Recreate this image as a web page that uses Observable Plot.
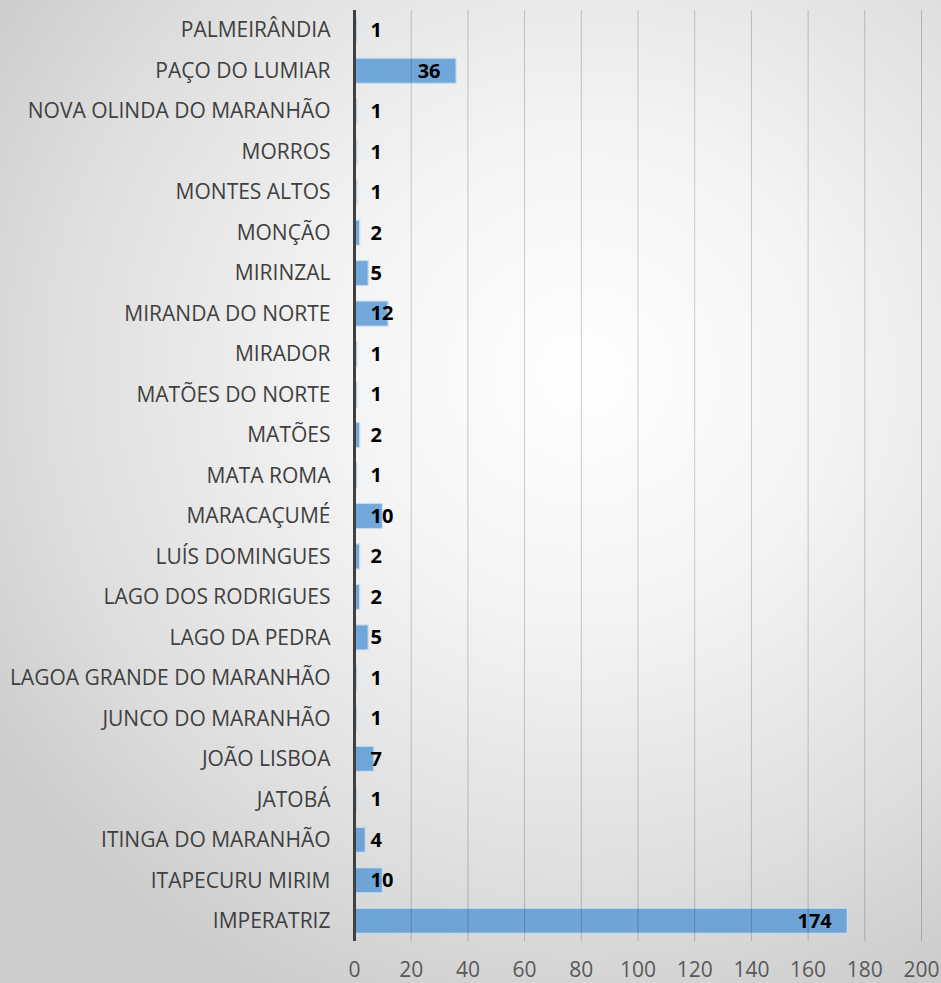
<!DOCTYPE html>
<html>
<head>
<meta charset="utf-8">
<script src="https://cdn.jsdelivr.net/npm/d3@7"></script>
<script src="https://cdn.jsdelivr.net/npm/@observablehq/plot@0.6"></script>
<style>
  html, body { margin: 0; padding: 0; }
  body { width: 941px; height: 983px; overflow: hidden;
    background: radial-gradient(ellipse 75% 70% at 62% 38%, #ffffff 0%, #f4f4f4 35%, #dedede 75%, #cccccc 100%); }
  #chart svg { display: block; background: transparent; }
</style>
</head>
<body>
<div id="chart"></div>
<script>
const municipios = [
  "PALMEIRÂNDIA", "PAÇO DO LUMIAR", "NOVA OLINDA DO MARANHÃO", "MORROS", "MONTES ALTOS",
  "MONÇÃO", "MIRINZAL", "MIRANDA DO NORTE", "MIRADOR", "MATÕES DO NORTE", "MATÕES",
  "MATA ROMA", "MARACAÇUMÉ", "LUÍS DOMINGUES", "LAGO DOS RODRIGUES", "LAGO DA PEDRA",
  "LAGOA GRANDE DO MARANHÃO", "JUNCO DO MARANHÃO", "JOÃO LISBOA", "JATOBÁ",
  "ITINGA DO MARANHÃO", "ITAPECURU MIRIM", "IMPERATRIZ"
];
const valores = [1, 36, 1, 1, 1, 2, 5, 12, 1, 1, 2, 1, 10, 2, 2, 5, 1, 1, 7, 1, 4, 10, 174];
const xTicks = [0, 20, 40, 60, 80, 100, 120, 140, 160, 180, 200];

const data = municipios.map((m, i) => ({municipio: m, valor: valores[i]}));
const big = data.filter(d => d.valor >= 20);
const small = data.filter(d => d.valor < 20);

const chart = Plot.plot({
  width: 941,
  height: 983,
  marginLeft: 354,
  marginRight: 20,
  marginTop: 10,
  marginBottom: 42,
  style: {background: "transparent", fontFamily: "'Open Sans', sans-serif"},
  x: {domain: [0, 200], ticks: xTicks, label: null},
  y: {domain: municipios, paddingInner: 0.38, paddingOuter: 0.19, round: false, label: null},
  marks: [
    Plot.barX(data, {x: "valor", y: "municipio", fill: "#5b9bd5", fillOpacity: 0.85, stroke: "#c9ddf1", strokeWidth: 1.2}),
    Plot.gridX(xTicks.slice(1), {stroke: "#000", strokeOpacity: 0.2, strokeWidth: 1}),
    Plot.ruleX([0], {stroke: "#404040", strokeWidth: 3}),
    Plot.axisX({ticks: xTicks, tickSize: 0, tickPadding: 21, fontSize: 21, fill: "#595959", label: null}),
    Plot.axisY({tickSize: 0, tickPadding: 24, fontSize: 21, fill: "#404040", label: null}),
    Plot.text(big, {x: "valor", y: "municipio", text: d => String(d.valor), textAnchor: "end", dx: -16, fontWeight: "bold", fontSize: 20, fill: "#000"}),
    Plot.text(small, {x: () => 0, y: "municipio", text: d => String(d.valor), textAnchor: "start", dx: 16, fontWeight: "bold", fontSize: 20, fill: "#000"})
  ]
});
document.getElementById("chart").appendChild(chart);
</script>
</body>
</html>
